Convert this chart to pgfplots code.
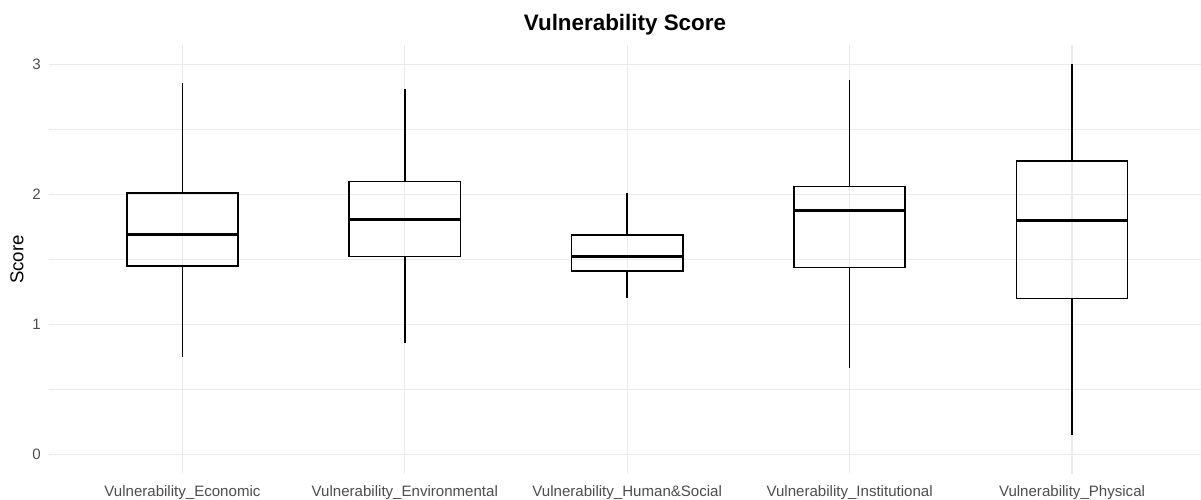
\documentclass[border=0pt]{standalone}
\usepackage{fontspec}
\setmainfont{Liberation Sans}
\usepackage{pgfplots}
\pgfplotsset{compat=1.18}
\usepgfplotslibrary{statistics}
\definecolor{gridgray}{HTML}{EBEBEB}
\definecolor{ticktext}{HTML}{4D4D4D}

\begin{document}
\begin{tikzpicture}
\begin{axis}[
  at={(0,0)}, anchor=south west,
  scale only axis,
  width=864pt, height=321.75pt,
  xmin=0.4, xmax=5.58,
  ymin=-0.15, ymax=3.15,
  axis line style={draw=none},
  major tick length=0pt, minor tick length=0pt,
  xtick={1,2,3,4,5},
  xticklabels={Vulnerability\_Economic, Vulnerability\_Environmental, Vulnerability\_Human\&Social, Vulnerability\_Institutional, Vulnerability\_Physical},
  ytick={0,1,2,3},
  minor ytick={0.5,1.5,2.5},
  xmajorgrids, ymajorgrids, yminorgrids,
  major grid style={color=gridgray, line width=0.8pt},
  minor grid style={color=gridgray, line width=0.45pt},
  /pgf/number format/assume math mode=true,
  tick label style={font=\fontsize{11.3}{13}\selectfont, text=ticktext},
  xticklabel style={anchor=base, yshift=-17pt},
  yticklabel style={anchor=east, inner sep=0pt, xshift=-6pt},
  ylabel={Score},
  every axis y label/.style={at={([xshift=-24pt]rel axis cs:0,0.5)}, anchor=center, rotate=90, font=\fontsize{14}{16}\selectfont},
  title={\bfseries Vulnerability Score},
  every axis title shift=0pt,
  title style={at={(rel axis cs:0.5,1)}, anchor=base, yshift=10.5pt, font=\fontsize{16.8}{19}\selectfont},
  boxplot/draw direction=y,
  boxplot/every median/.style={line width=2.2pt},
]
\addplot[black, line width=1.2pt, boxplot prepared={
  lower whisker=0.751, lower quartile=1.451, median=1.690,
  upper quartile=2.013, upper whisker=2.859,
  draw position=1, box extend=0.5, whisker extend=0}] coordinates {};
\addplot[black, line width=1.2pt, boxplot prepared={
  lower whisker=0.854, lower quartile=1.523, median=1.808,
  upper quartile=2.100, upper whisker=2.808,
  draw position=2, box extend=0.5, whisker extend=0}] coordinates {};
\addplot[black, line width=1.2pt, boxplot prepared={
  lower whisker=1.205, lower quartile=1.413, median=1.520,
  upper quartile=1.690, upper whisker=2.008,
  draw position=3, box extend=0.5, whisker extend=0}] coordinates {};
\addplot[black, line width=1.2pt, boxplot prepared={
  lower whisker=0.669, lower quartile=1.438, median=1.877,
  upper quartile=2.062, upper whisker=2.877,
  draw position=4, box extend=0.5, whisker extend=0}] coordinates {};
\addplot[black, line width=1.2pt, boxplot prepared={
  lower whisker=0.151, lower quartile=1.200, median=1.802,
  upper quartile=2.256, upper whisker=3.000,
  draw position=5, box extend=0.5, whisker extend=0}] coordinates {};
\end{axis}
\pgfresetboundingbox
\useasboundingbox (-36.75pt,-18.75pt) rectangle (864pt,355.5pt);
\end{tikzpicture}
\end{document}
